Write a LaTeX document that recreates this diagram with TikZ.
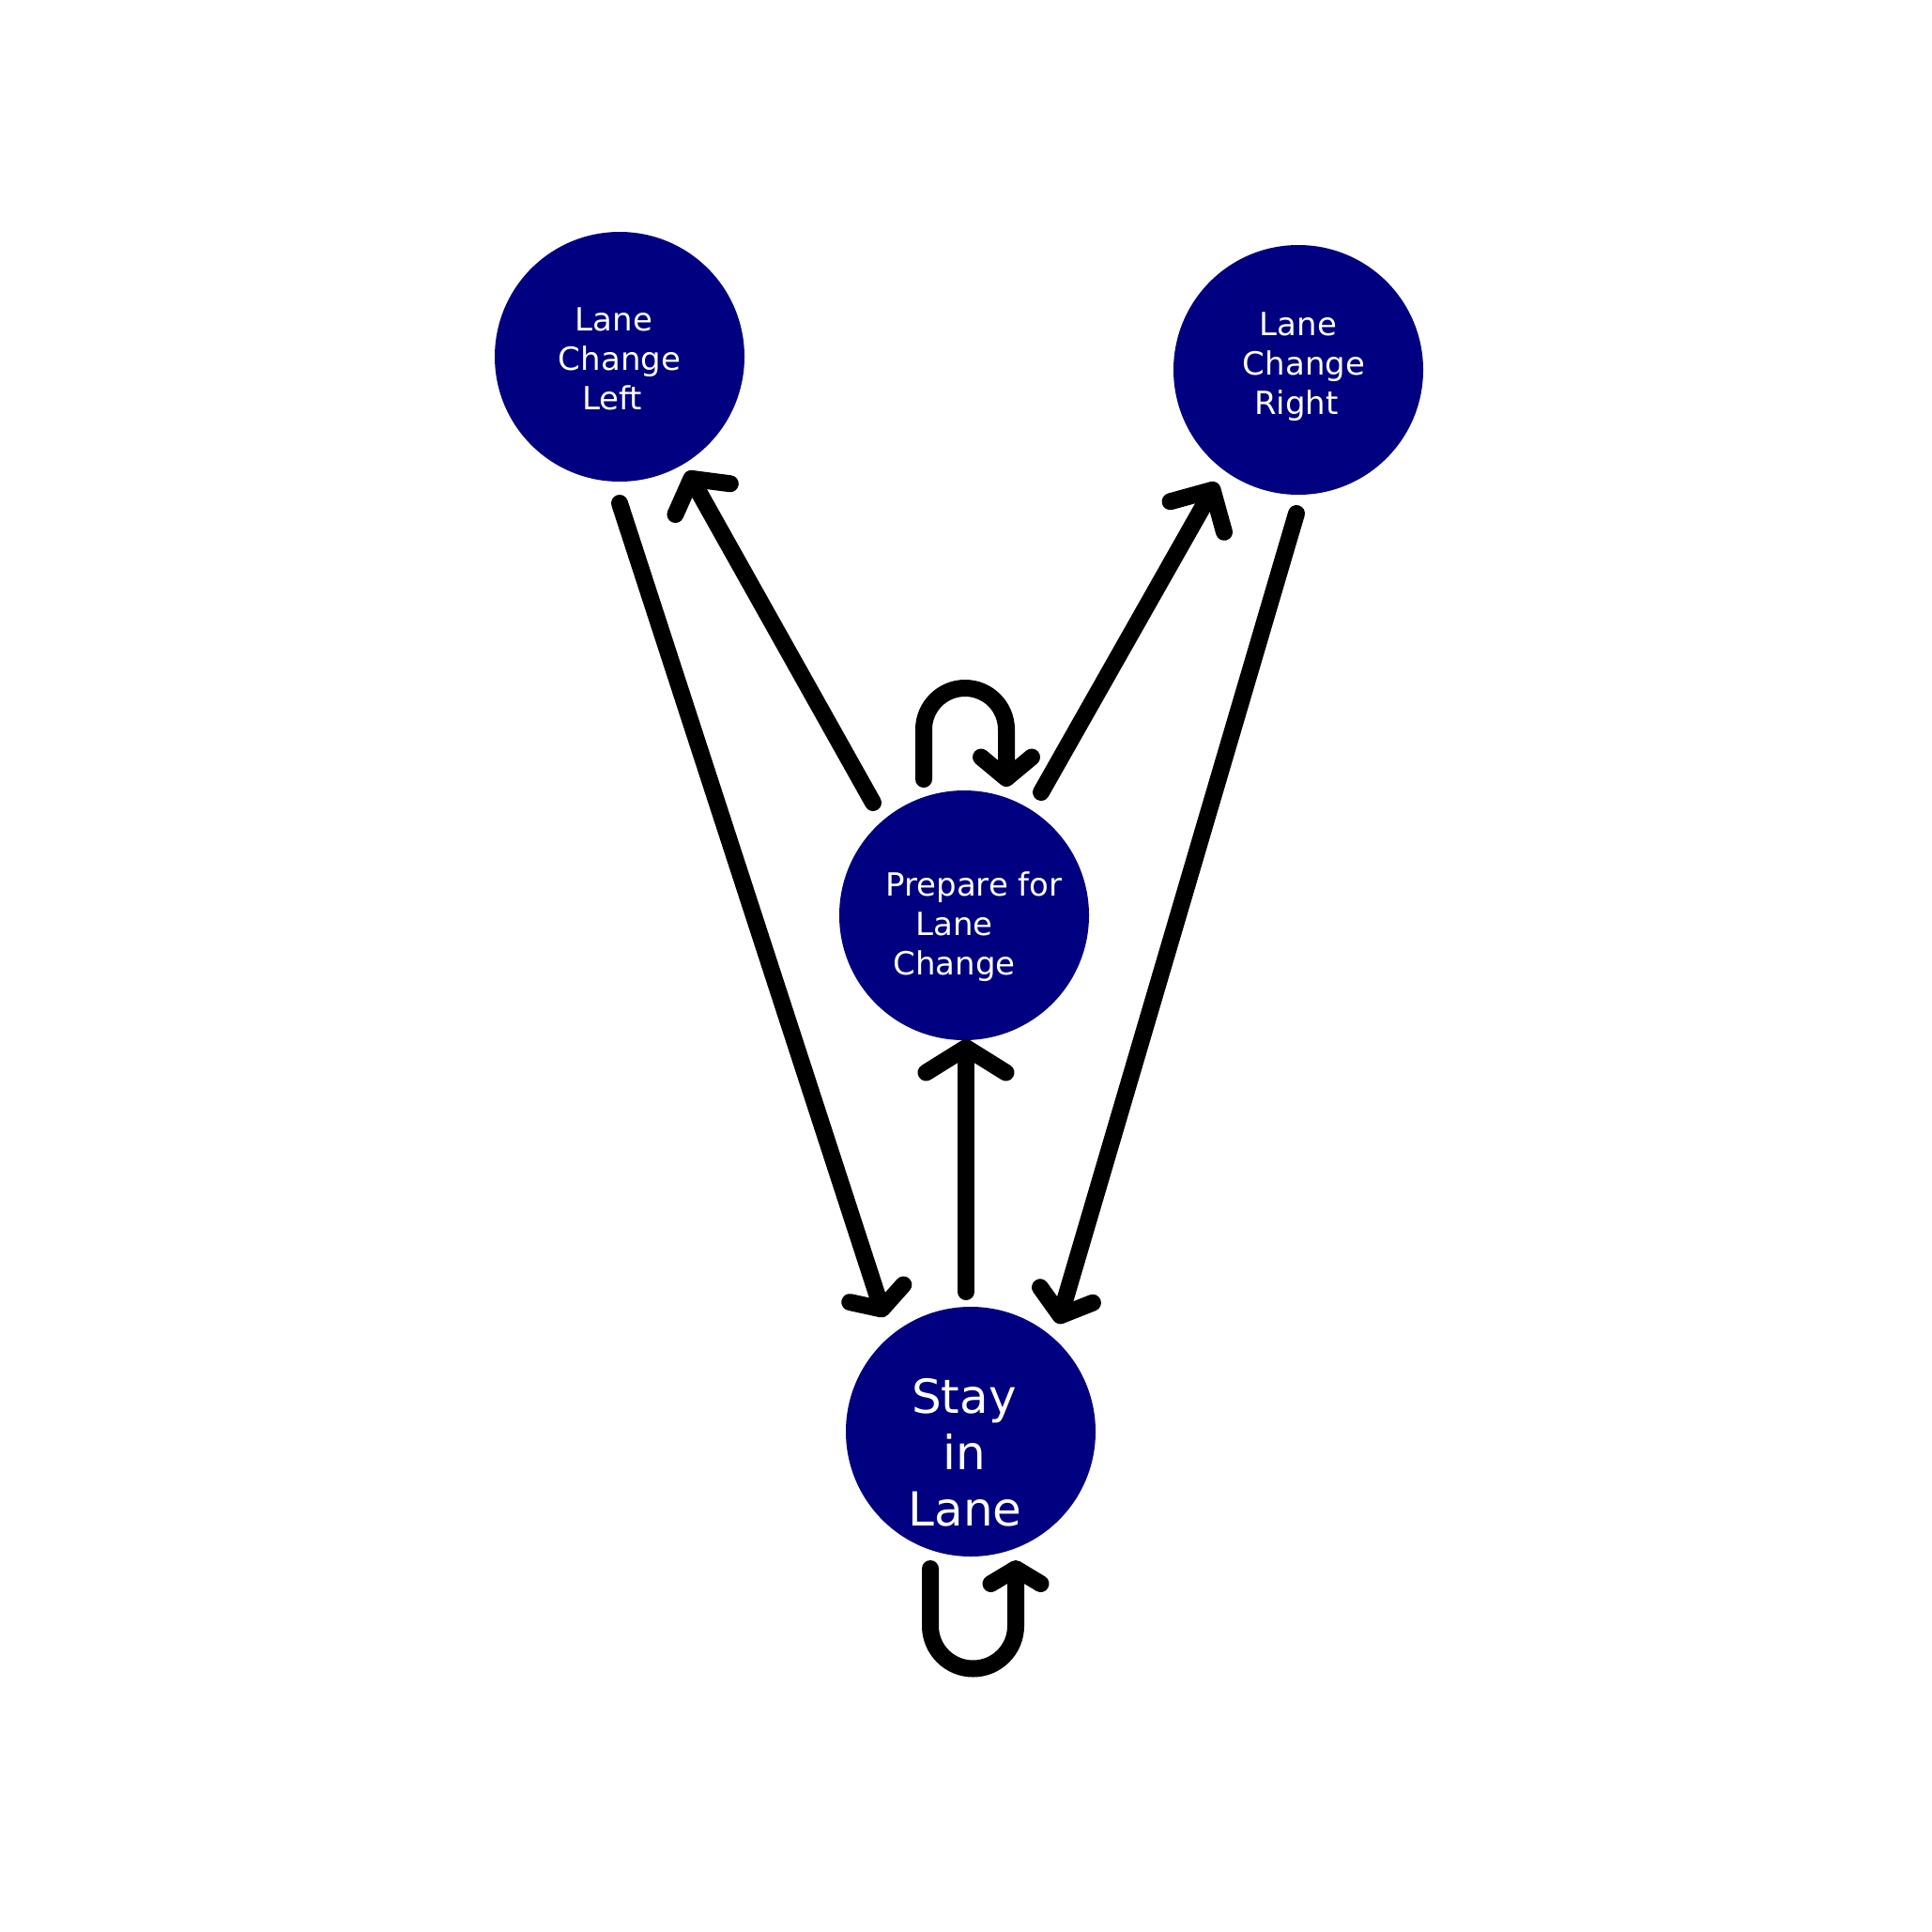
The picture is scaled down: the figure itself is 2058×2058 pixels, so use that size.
\documentclass[tikz,border=0pt]{standalone}
\usepackage{fontspec}
\setmainfont{DejaVu Sans}
\usetikzlibrary{arrows.meta}
\definecolor{navyfill}{RGB}{0,0,128}
\newcommand\padw[1]{\hbox to #1{}}
\begin{document}
\begin{tikzpicture}[x=1pt,y=-1pt,
  state/.style={circle, fill=navyfill, draw=none, minimum size=266pt, inner sep=0pt, text=white, align=center},
  smalltxt/.style={font=\fontsize{34}{42}\selectfont},
  bigtxt/.style={font=\fontsize{50}{60}\selectfont},
  conn/.style={draw=black, line width=18pt, line cap=round, line join=round},
  bhead/.style 2 args={-{Straight Barb[length=#1pt,width=#2pt,round]}}
]
\useasboundingbox (0,0) rectangle (2058,2058);

\node[state,smalltxt] (lcl) at (660,380) {\rule{0pt}{30pt}Lane\padw{12pt}\\Change\\Left\padw{16pt}};
\node[state,smalltxt] (lcr) at (1383,394) {Lane\\\padw{12pt}Change\\Right\padw{4pt}\rule[-13pt]{0pt}{13pt}};
\node[state,smalltxt] (prep) at (1027,975) {\rule{0pt}{50pt}\padw{21pt}Prepare for\\Lane\padw{21pt}\\Change\padw{21pt}};
\node[state,bigtxt] (stay) at (1034,1525) {\rule{0pt}{82pt}Stay\padw{14pt}\\in\padw{13pt}\\Lane\padw{12pt}};

\draw[conn,bhead={17.5}{60}] ([shift={(0,156)}]lcl.center) -- ([shift={(-92,-122)}]stay.center);
\draw[conn,bhead={25}{67}] ([shift={(-97,-120)}]prep.center) -- ([shift={(72,122)}]lcl.center);
\draw[conn,bhead={33}{66}] ([shift={(82,-131)}]prep.center) -- ([shift={(-87,120)}]lcr.center);
\draw[conn,bhead={22.8}{58.3}] ([shift={(-2,153)}]lcr.center) -- ([shift={(93,-115)}]stay.center);
\draw[conn,bhead={26.5}{85}] ([shift={(-5,-149)}]stay.center) -- ([shift={(2,132)}]prep.center);
\draw[conn,bhead={22.5}{54}] ([shift={(-43,-145)}]prep.center) -- ++(0,-53) arc[start angle=180,end angle=360,radius=44] -- ++(0,61);
\draw[conn,bhead={16}{53}] ([shift={(-43,146)}]stay.center) -- ++(0,61) arc[start angle=180,end angle=0,radius=45.5] -- ++(0,-70);
\end{tikzpicture}
\end{document}
